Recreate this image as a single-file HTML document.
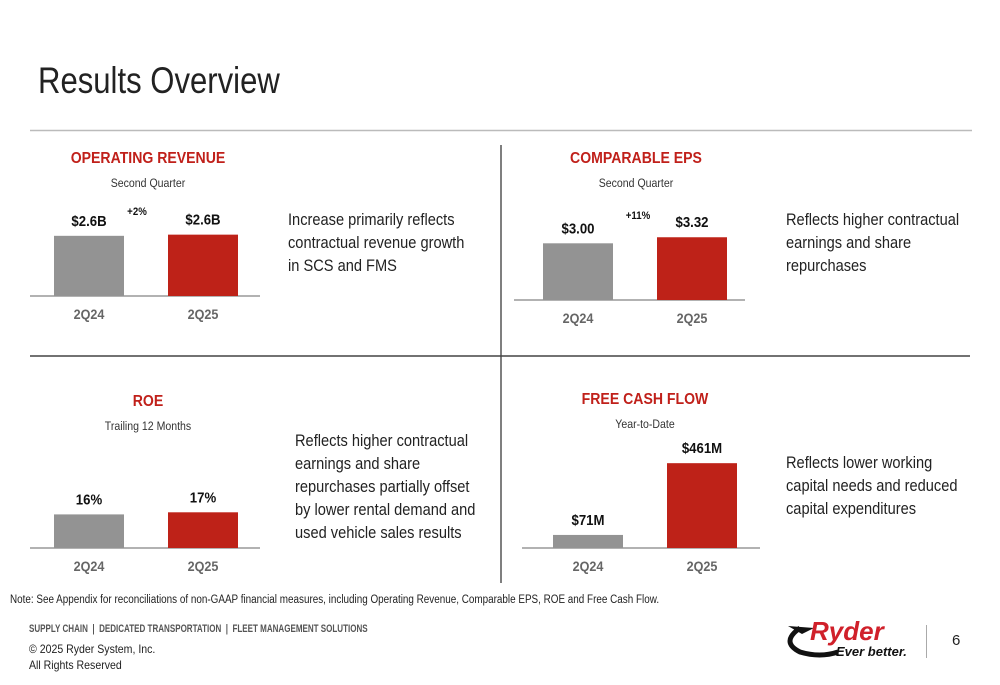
<!DOCTYPE html>
<html><head><meta charset="utf-8">
<style>
body{margin:0;width:1000px;height:685px;background:#fff;overflow:hidden;font-family:"Liberation Sans",sans-serif;}
.a{position:absolute;white-space:nowrap;}
.t{font-size:17px;line-height:23px;color:#222;transform:scaleX(0.86);transform-origin:0 0;}
</style></head>
<body>
<div class="a" style="left:38px;top:60px;font-size:37px;color:#222;transform:scaleX(0.84);transform-origin:0 0;">Results Overview</div>
<div class="a t" style="left:288px;top:208px;">Increase primarily reflects<br>contractual revenue growth<br>in SCS and FMS</div>
<div class="a t" style="left:786px;top:208px;">Reflects higher contractual<br>earnings and share<br>repurchases</div>
<div class="a t" style="left:295px;top:429px;">Reflects higher contractual<br>earnings and share<br>repurchases partially offset<br>by lower rental demand and<br>used vehicle sales results</div>
<div class="a t" style="left:786px;top:451px;">Reflects lower working<br>capital needs and reduced<br>capital expenditures</div>
<div class="a" style="left:10px;top:594px;font-size:11.5px;color:#222;transform:scaleX(0.86);transform-origin:0 0;">Note: See Appendix for reconciliations of non-GAAP financial measures, including Operating Revenue, Comparable EPS, ROE and Free Cash Flow.</div>
<div class="a" style="left:29px;top:623px;font-size:11px;font-weight:bold;color:#555;transform:scaleX(0.73);transform-origin:0 0;">SUPPLY CHAIN &nbsp;|&nbsp; DEDICATED TRANSPORTATION &nbsp;|&nbsp; FLEET MANAGEMENT SOLUTIONS</div>
<div class="a" style="left:29px;top:641px;font-size:12px;line-height:16px;color:#222;transform:scaleX(0.88);transform-origin:0 0;">© 2025 Ryder System, Inc.<br>All Rights Reserved</div>
<div class="a" style="left:780px;top:612px;width:135px;height:48px;">
 <svg width="135" height="48"><path d="M20 16 Q0 30 20 40 Q40 46 58 40" fill="none" stroke="#111" stroke-width="5"/><path d="M8 14 L34 16 L22 22 Z" fill="#111"/>
 <text x="30" y="28" font-size="26" font-weight="bold" font-style="italic" fill="#d0202a" font-family="Liberation Sans,sans-serif">Ryder</text>
 <text x="56" y="44" font-size="13" font-weight="bold" font-style="italic" fill="#111" font-family="Liberation Sans,sans-serif">Ever better.</text></svg>
</div>
<div class="a" style="left:926px;top:625px;width:1px;height:33px;background:#aaa;"></div>
<div class="a" style="left:952px;top:632px;font-size:15px;color:#222;">6</div>

<svg id="s" class="a" style="left:0;top:0" width="1000" height="685"></svg>
<script>
const cats=["2Q24","2Q25"];
const revVals=[2.55,2.60];
const revLabels=["$2.6B","$2.6B"];
const epsVals=[3.00,3.32];
const epsLabels=["$3.00","$3.32"];
const roeVals=[16,17];
const roeLabels=["16%","17%"];
const fcfVals=[71,461];
const fcfLabels=["$71M","$461M"];
const NS="http://www.w3.org/2000/svg";
const s=document.getElementById('s');
function el(t,a,txt){const e=document.createElementNS(NS,t);for(const k in a)e.setAttribute(k,a[k]);if(txt!==undefined)e.textContent=txt;s.appendChild(e);return e;}
function sq(cx,f){return `translate(${cx} 0) scale(${f} 1) translate(${-cx} 0)`;}
let e;
e=el('line',{x1:30,y1:130.5,x2:972,y2:130.5,stroke:'#bbb','stroke-width':1.5});


e=el('line',{x1:501,y1:145,x2:501,y2:583,stroke:'#555','stroke-width':1.5});


e=el('line',{x1:30,y1:356,x2:970,y2:356,stroke:'#444','stroke-width':1.5});


function chart(o){
  const x0=o.x0, base=o.base;
  e=el('text',{x:o.cx,y:o.ty,'text-anchor':'middle','font-size':16,'font-weight':'bold',fill:'#c0201a',transform:sq(o.cx,0.88)},o.title);
  
  
  e=el('text',{x:o.cx,y:o.ty+24,'text-anchor':'middle','font-size':12,fill:'#333',transform:sq(o.cx,0.88)},o.sub);
  
  
  e=el('line',{x1:o.ax1,y1:base,x2:o.ax2,y2:base,stroke:'#999','stroke-width':1.5});
  
  
  o.vals.forEach((v,i)=>{
    const bx=x0+i*114, h=v*o.scale, cx=bx+35;
    e=el('rect',{x:bx,y:base-h,width:70,height:h,fill:i?'#be2218':'#939393'});
    
    
    e=el('text',{x:cx,y:base-h-10,'text-anchor':'middle','font-size':15,'font-weight':'bold',fill:'#111',transform:sq(cx,0.88)},o.labels[i]);
    
    
    e=el('text',{x:cx,y:base+23,'text-anchor':'middle','font-size':14,'font-weight':'bold',fill:'#666',transform:sq(cx,0.9)},cats[i]);
    
    
  });
  if(o.pct){e=el('text',{x:o.px,y:o.py,'text-anchor':'middle','font-size':11,'font-weight':'bold',fill:'#111',transform:sq(o.px,0.88)},o.pct);
  
  }
}
chart({name:'revenue',title:'OPERATING REVENUE',sub:'Second Quarter',cx:148,ty:163,x0:54,base:296,ax1:30,ax2:260,scale:23.6,vals:revVals,labels:revLabels,pct:'+2%',px:137,py:215});
chart({name:'eps',title:'COMPARABLE EPS',sub:'Second Quarter',cx:636,ty:163,x0:543,base:300,ax1:514,ax2:745,scale:18.9,vals:epsVals,labels:epsLabels,pct:'+11%',px:638,py:219});
chart({name:'roe',title:'ROE',sub:'Trailing 12 Months',cx:148,ty:406,x0:54,base:548,ax1:30,ax2:260,scale:2.1,vals:roeVals,labels:roeLabels});
chart({name:'fcf',title:'FREE CASH FLOW',sub:'Year-to-Date',cx:645,ty:404,x0:553,base:548,ax1:522,ax2:760,scale:0.184,vals:fcfVals,labels:fcfLabels});
</script>
</body></html>
